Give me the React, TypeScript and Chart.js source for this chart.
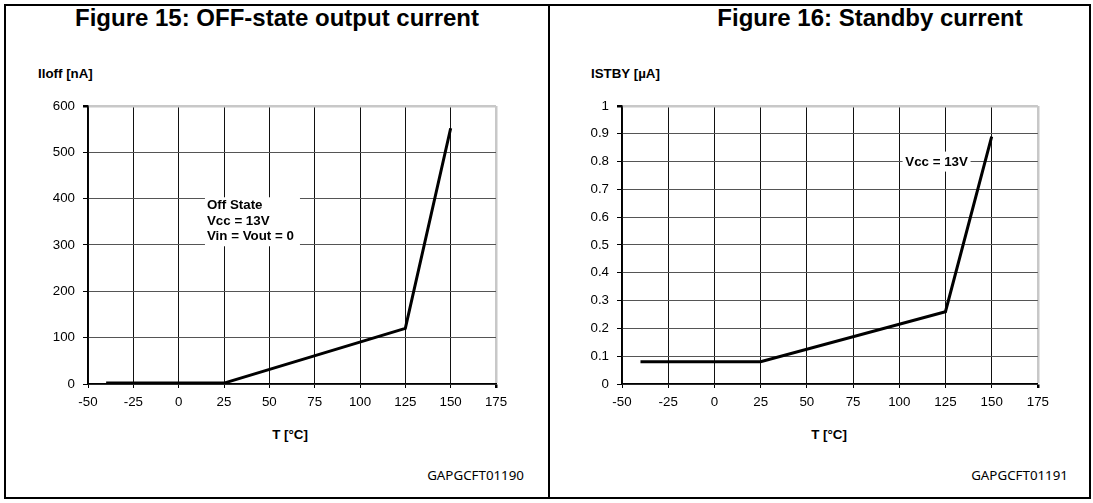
import React, { useEffect, useRef } from "react";
import { Chart, registerables } from "chart.js";

Chart.register(...registerables);

// ---------- data ----------
const tempTicks = [-50, -25, 0, 25, 50, 75, 100, 125, 150, 175];

const offTemp = [-40, 25, 125, 150];
const offCurrent = [2, 2, 120, 552];
const offTicks = [0, 100, 200, 300, 400, 500, 600];
const offNoteLines = ["Off State", "Vcc = 13V", "Vin = Vout = 0"];

const stbyTemp = [-40, 25, 125, 150];
const stbyCurrent = [0.08, 0.08, 0.26, 0.89];
const stbyTicks = [0, 0.1, 0.2, 0.3, 0.4, 0.5, 0.6, 0.7, 0.8, 0.9, 1];
const stbyNoteLines = ["Vcc = 13V"];

const ARIAL = "'Liberation Sans', Arial, Helvetica, sans-serif";
const LABEL = 13.33;

type Note = {
  lines: string[];
  ax: number; // anchor in data space
  ay: number;
  box: { dx: number; dy: number; w: number; h: number }; // pixel offsets from anchor
  text: { dx: number; dy: number; step: number; align: CanvasTextAlign };
};

function makeNotePlugin(note: Note) {
  return {
    id: "note",
    beforeDatasetsDraw(chart: any) {
      const ctx = chart.ctx as CanvasRenderingContext2D;
      const px = chart.scales.x.getPixelForValue(note.ax);
      const py = chart.scales.y.getPixelForValue(note.ay);
      ctx.save();
      ctx.fillStyle = "#ffffff";
      ctx.fillRect(px + note.box.dx, py + note.box.dy, note.box.w, note.box.h);
      ctx.fillStyle = "#000000";
      ctx.font = `bold ${LABEL}px ${ARIAL}`;
      ctx.textAlign = note.text.align;
      ctx.textBaseline = "alphabetic";
      note.lines.forEach((l, i) => {
        ctx.fillText(l, px + note.text.dx, py + note.text.dy + i * note.text.step);
      });
      ctx.restore();
    },
  };
}

type PanelProps = {
  xs: number[];
  ys: number[];
  yTicks: number[];
  left: number;
  top: number;
  width: number;
  height: number;
  padRight: number;
  yAxisWidth: number;
  note: Note;
};

function PanelChart(p: PanelProps) {
  const ref = useRef<HTMLCanvasElement | null>(null);
  useEffect(() => {
    if (!ref.current) return;
    const yMin = p.yTicks[0];
    const yMax = p.yTicks[p.yTicks.length - 1];
    const xMin = tempTicks[0];
    const xMax = tempTicks[tempTicks.length - 1];
    const chart = new Chart(ref.current, {
      type: "line",
      data: {
        datasets: [
          {
            data: p.xs.map((x, i) => ({ x, y: p.ys[i] })),
            borderColor: "#000000",
            borderWidth: 3,
            pointRadius: 0,
            tension: 0,
            fill: false,
          },
        ],
      },
      options: {
        animation: false,
        responsive: false,
        events: [],
        layout: { padding: { left: 0, top: 10, right: p.padRight, bottom: 0 }, autoPadding: false },
        plugins: { legend: { display: false }, tooltip: { enabled: false }, title: { display: false } },
        scales: {
          x: {
            type: "linear",
            min: xMin,
            max: xMax,
            afterBuildTicks: (s: any) => {
              s.ticks = tempTicks.map((v) => ({ value: v }));
            },
            afterFit: (s: any) => {
              s.height = 36;
            },
            ticks: {
              color: "#000",
              font: { family: ARIAL, size: LABEL },
              padding: 6,
              maxRotation: 0,
              autoSkip: false,
              callback: (v: any) => String(v),
            },
            grid: {
              color: (c: any) => (c.tick && c.tick.value === xMax ? "#c8c8c8" : "#111111"),
              lineWidth: (c: any) => (c.tick && c.tick.value === xMax ? 2.5 : 1),
              tickColor: "#000",
              tickLength: 4,
              drawTicks: true,
            },
            border: { color: "#000", width: 1.5 },
          },
          y: {
            type: "linear",
            min: yMin,
            max: yMax,
            afterBuildTicks: (s: any) => {
              s.ticks = p.yTicks.map((v) => ({ value: v }));
            },
            afterFit: (s: any) => {
              s.width = p.yAxisWidth;
            },
            ticks: {
              color: "#000",
              font: { family: ARIAL, size: LABEL },
              padding: 8,
              autoSkip: false,
              callback: (v: any) => String(v),
            },
            grid: {
              color: (c: any) => (c.tick && c.tick.value === yMax ? "#c8c8c8" : "#555555"),
              lineWidth: (c: any) => (c.tick && c.tick.value === yMax ? 2.5 : 1),
              tickColor: "#000",
              tickLength: 5,
              drawTicks: true,
            },
            border: { color: "#000", width: 1.5 },
          },
        },
      } as any,
      plugins: [makeNotePlugin(p.note)],
    });
    return () => chart.destroy();
  }, []);
  return (
    <canvas
      ref={ref}
      width={p.width}
      height={p.height}
      style={{ position: "absolute", left: p.left, top: p.top, width: p.width, height: p.height }}
    />
  );
}

type TxtProps = {
  x: number;
  base: number;
  size: number;
  bold?: boolean;
  align?: "left" | "center" | "right";
  family?: string;
  asc?: number;
  children: React.ReactNode;
};

function Txt({ x, base, size, bold, align = "left", family = ARIAL, asc = 0.8465, children }: TxtProps) {
  const top = base - asc * size;
  let left = x;
  let width: number | undefined;
  if (align === "center") {
    left = x - 500;
    width = 1000;
  } else if (align === "right") {
    left = x - 1000;
    width = 1000;
  }
  return (
    <div
      style={{
        position: "absolute",
        left,
        top,
        width,
        textAlign: align,
        fontFamily: family,
        fontSize: size,
        fontWeight: bold ? "bold" : "normal",
        lineHeight: `${size}px`,
        whiteSpace: "nowrap",
        color: "#000",
      }}
    >
      {children}
    </div>
  );
}

export default function App() {
  return (
    <div style={{ position: "absolute", left: 0, top: 0, width: 1093, height: 503, background: "#fff", overflow: "hidden" }}>
      <div
        style={{
          position: "absolute",
          left: 4,
          top: 4,
          width: 1083,
          height: 491,
          border: "2px solid #000",
        }}
      />
      <div style={{ position: "absolute", left: 548, top: 4, width: 2, height: 495, background: "#000" }} />

      <Txt x={277} base={26} size={24} bold align="center">
        Figure 15: OFF-state output current
      </Txt>
      <Txt x={870} base={26} size={24} bold align="center">
        Figure 16: Standby current
      </Txt>

      <Txt x={38} base={78} size={LABEL} bold>
        Iloff [nA]
      </Txt>
      <Txt x={591} base={78} size={LABEL} bold>
        ISTBY [µA]
      </Txt>

      <PanelChart
        xs={offTemp}
        ys={offCurrent}
        yTicks={offTicks}
        left={30}
        top={90}
        width={490}
        height={330}
        padRight={24}
        yAxisWidth={58}
        note={{
          lines: offNoteLines,
          ax: 14.5,
          ay: 403,
          box: { dx: 0, dy: 0, w: 95, h: 49 },
          text: { dx: 2, dy: 12, step: 15.5, align: "left" },
        }}
      />
      <PanelChart
        xs={stbyTemp}
        ys={stbyCurrent}
        yTicks={stbyTicks}
        left={565}
        top={90}
        width={490}
        height={330}
        padRight={15}
        yAxisWidth={57}
        note={{
          lines: stbyNoteLines,
          ax: 120.2,
          ay: 0.8,
          box: { dx: -34, dy: -10, w: 68, h: 20 },
          text: { dx: 0, dy: 4.7, step: 15, align: "center" },
        }}
      />

      <Txt x={290} base={439} size={LABEL} bold align="center">
        T [°C]
      </Txt>
      <Txt x={829} base={439} size={LABEL} bold align="center">
        T [°C]
      </Txt>

      <Txt x={524} base={481} size={13.33} align="right" family="'Noto Sans', 'Open Sans', sans-serif" asc={0.888}>
        GAPGCFT01190
      </Txt>
      <Txt x={1068} base={481} size={13.33} align="right" family="'Noto Sans', 'Open Sans', sans-serif" asc={0.888}>
        GAPGCFT01191
      </Txt>
    </div>
  );
}
